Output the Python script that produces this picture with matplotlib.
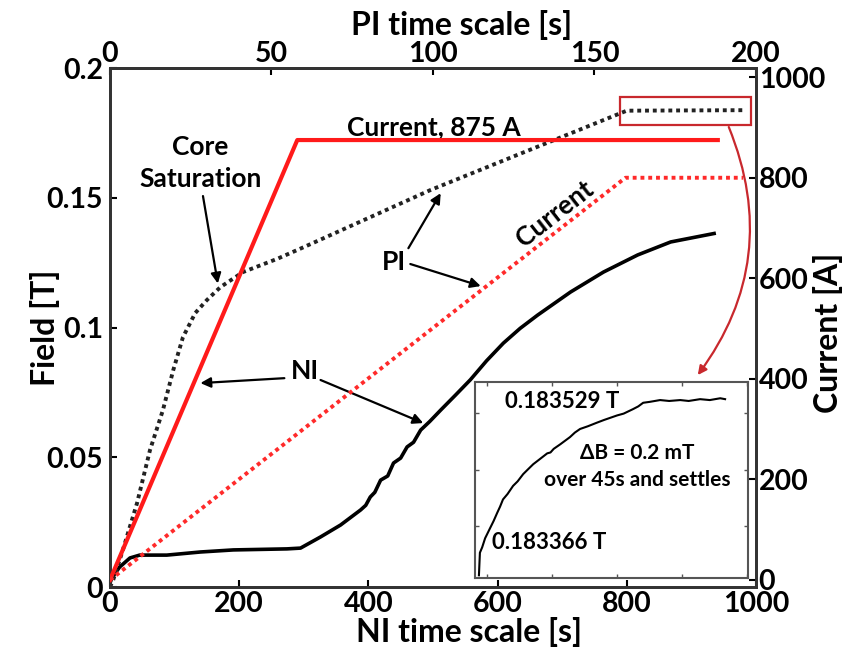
import matplotlib
matplotlib.use("Agg")
import matplotlib.pyplot as plt
from matplotlib.patches import Rectangle, FancyArrowPatch

plt.rcParams['font.family'] = ['Lato', 'DejaVu Sans']
plt.rcParams['font.weight'] = 'bold'

# NI coil: field vs time (NI time scale, s)
ni_t = [0, 3, 15, 31, 46, 88, 140, 191, 274, 295, 326, 357, 388, 396, 403, 410, 419,
        430, 439, 450, 460, 470, 481, 495, 512, 535, 558, 583, 609, 635, 662, 713, 764,
        817, 868, 938]
ni_B = [0.0015, 0.0035, 0.0077, 0.0112, 0.0123, 0.0123, 0.0135, 0.0143, 0.0147, 0.015,
        0.0193, 0.0239, 0.0297, 0.0315, 0.0347, 0.0365, 0.0412, 0.0428, 0.0478, 0.0497,
        0.054, 0.0558, 0.0605, 0.0638, 0.0682, 0.074, 0.0799, 0.0872, 0.094, 0.0997,
        0.1048, 0.1137, 0.1214, 0.128, 0.133, 0.1364]

# PI coil: field vs time (expressed on NI time scale)
pi_t = [0, 5, 20, 42, 62, 82, 98, 113, 132, 150, 171, 206, 259, 300, 496, 791, 800, 984]
pi_B = [0, 0.0027, 0.0143, 0.0324, 0.0528, 0.0682, 0.0836, 0.0963, 0.1056, 0.1106,
        0.1156, 0.1214, 0.1265, 0.131, 0.153, 0.1827, 0.1836, 0.1838]

# currents
ni_I_t = [0, 290, 941]
ni_I = [0, 875, 875]
pi_I_t = [0, 798, 980]
pi_I = [0, 800, 800]

# inset: PI field settling (s, T)
ins_t = [-2.5, -2.2, -1.5, -0.6, 0.9, 2.0, 3.1, 4.0, 4.9, 6.3, 8.0, 9.4, 11.1, 12.5, 14.2,
         16.0, 18.5, 19.5, 20.5, 22.5, 24.0, 25.5, 27.0, 28.6, 31.0, 33.8, 36.0, 40.0,
         42.0, 44.9, 46.5, 48.0, 50.0, 53.2, 56.0, 59.4, 62.0, 65.5, 68.5, 71.7, 73.2]
ins_B = [0.183335, 0.18336, 0.183366, 0.183376, 0.183387, 0.183395, 0.183404, 0.183411,
         0.183419, 0.183425, 0.183434, 0.183439, 0.183447, 0.183452, 0.183458, 0.183463,
         0.183470, 0.183471, 0.183475, 0.183480, 0.183484, 0.183488, 0.183493, 0.183497,
         0.1835, 0.183504, 0.183507, 0.183512, 0.183514, 0.183519, 0.183522, 0.183526,
         0.183527, 0.183529, 0.183528, 0.183529, 0.183528, 0.18353, 0.183529, 0.183531,
         0.18353]

fig = plt.figure(figsize=(8.59, 6.49), dpi=100)
ax = fig.add_axes([0.128, 0.0955, 0.752, 0.7995])
ax2 = ax.twinx()

ax.plot(ni_t, ni_B, color='black', lw=2.6, solid_capstyle='butt', zorder=3)
ax.plot(pi_t, pi_B, color='#222222', lw=2.8, ls=(0, (1, 1.0)), zorder=3)
ax2.plot(ni_I_t, ni_I, color='#ff1a1a', lw=3.0, zorder=3)
ax2.plot(pi_I_t, pi_I, color='#ff2a2a', lw=2.8, ls=(0, (1, 1.0)), zorder=3)

ax.set_xlim(0, 1000)
ax.set_ylim(0, 0.2)
ax2.set_ylim(-14, 1018)
ax.set_xticks([0, 200, 400, 600, 800, 1000])
ax.set_yticks([0, 0.05, 0.1, 0.15, 0.2])
ax.set_yticklabels(['0', '0.05', '0.1', '0.15', '0.2'])
ax2.set_yticks([0, 200, 400, 600, 800, 1000])

top = ax.secondary_xaxis('top', functions=(lambda x: x / 5, lambda x: x * 5))
top.set_xticks([0, 50, 100, 150, 200])

for a in (ax, ax2, top):
    a.tick_params(direction='in', length=5, width=1.5, labelsize=20.5, colors='black')
ax.tick_params(axis='x', pad=3)
ax.tick_params(axis='y', pad=5)
ax2.tick_params(axis='y', pad=2)
top.tick_params(pad=1)
for sp in list(ax.spines.values()) + list(ax2.spines.values()) + list(top.spines.values()):
    sp.set_linewidth(2)
    sp.set_color('#333333')

ax.set_xlabel('NI time scale [s]', fontsize=23, fontweight='bold', va='center')
ax.xaxis.set_label_coords(0.556, -0.087)
fig.text(462 / 859, 1 - 25 / 649, 'PI time scale [s]', fontsize=23, fontweight='bold',
         ha='center', va='center')
ax.set_ylabel('Field [T]', fontsize=23, fontweight='bold', va='center', ha='center')
ax.yaxis.set_label_coords(-0.1, 0.5)
ax2.set_ylabel('Current [A]', fontsize=23, fontweight='bold', va='center', ha='center')
ax2.yaxis.set_label_coords(1.111, 0.49)

arrow = dict(arrowstyle='-|>', color='black', lw=1.6, mutation_scale=15, shrinkA=0, shrinkB=0)

ax.text(140, 0.1634, 'Core\nSaturation', ha='center', va='center', fontsize=19,
        linespacing=1.4)
ax.annotate('', xy=(167, 0.117), xytext=(144, 0.1507), arrowprops=arrow)

ax.text(501, 0.1773, 'Current, 875 A', ha='center', va='center', fontsize=19)

ax.text(439, 0.1252, 'PI', ha='center', va='center', fontsize=19)
ax.annotate('', xy=(512, 0.1518), xytext=(462, 0.1306), arrowprops=arrow)
ax.annotate('', xy=(574, 0.116), xytext=(465, 0.1245), arrowprops=arrow)

ax.text(688, 0.1437, 'Current', ha='center', va='center', fontsize=19, rotation=38,
        rotation_mode='anchor')

ax.text(302, 0.0832, 'NI', ha='center', va='center', fontsize=19)
ax.annotate('', xy=(140, 0.0786), xytext=(270, 0.0805), arrowprops=arrow)
ax.annotate('', xy=(485, 0.0632), xytext=(326, 0.0798), arrowprops=arrow)

# zoom box and curved arrow
ax.add_patch(Rectangle((789, 0.178), 203, 0.0108, fill=False, edgecolor='#c8282d',
                       lw=1.6, zorder=4))
ax.add_patch(FancyArrowPatch((958, 0.1773), (910, 0.0817), connectionstyle='arc3,rad=-0.28',
                             arrowstyle='-|>', mutation_scale=13, color='#c8282d', lw=1.6,
                             shrinkA=0, shrinkB=0, zorder=4))

# inset
axi = fig.add_axes([0.553, 0.1094, 0.318, 0.302])
axi.plot(ins_t, ins_B, color='black', lw=1.5)
axi.set_xlim(-3.7, 80.3)
axi.set_ylim(0.183332, 0.183549)
axi.set_xticks([0, 20, 40, 60, 80])
axi.set_yticks([0.18339, 0.183452, 0.183515])
axi.tick_params(direction='in', length=3, width=1, labelbottom=False, labelleft=False,
                top=True, right=True, colors='#555555')
for sp in axi.spines.values():
    sp.set_linewidth(1.5)
    sp.set_color('#555555')
axi.text(0.11, 0.898, '0.183529 T', transform=axi.transAxes, ha='left', va='center',
         fontsize=16)
axi.text(0.062, 0.179, '0.183366 T', transform=axi.transAxes, ha='left', va='center',
         fontsize=16)
axi.text(0.593, 0.638, 'ΔB = 0.2 mT', transform=axi.transAxes, ha='center', va='center',
         fontsize=15)
axi.text(0.593, 0.5, 'over 45s and settles', transform=axi.transAxes, ha='center',
         va='center', fontsize=15)

fig.savefig('out.png', dpi=100)
